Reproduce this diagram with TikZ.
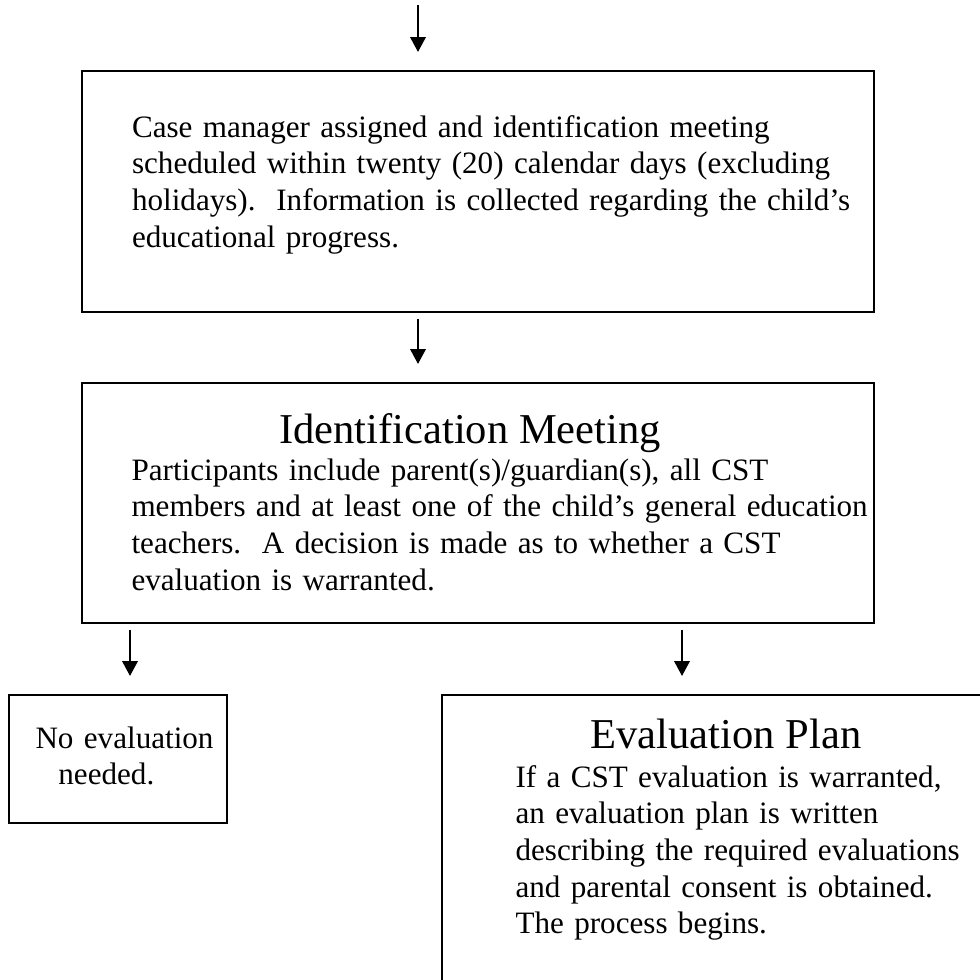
\documentclass[tikz,border=0pt]{standalone}
\usepackage{fontspec}
\setmainfont{Liberation Serif}
\usetikzlibrary{arrows.meta,fit}

\tikzset{
  box/.style={draw, line width=0.75pt, inner sep=0pt},
  flow/.style={-{Triangle[length=5.6pt,width=5.9pt]}, line width=0.5pt,
    shorten <=2.3pt, shorten >=6.8pt},
  body/.style={font=\fontsize{11.7}{13.8}\selectfont, inner sep=0pt,
    anchor=base west, text width=290pt, align=left},
  heading/.style={font=\fontsize{16}{18.4}\selectfont, inner sep=0pt, anchor=base},
}

\begin{document}
\begin{tikzpicture}[x=0.376pt,y=-0.376pt]
  \useasboundingbox (0,0) rectangle (980,979);
  \clip (0,0) rectangle (980,979);

  % where the arrows run
  \coordinate (midx) at (418,5);
  \coordinate (leftx) at (130,0);
  \coordinate (rightx) at (682,0);

  % boxes
  \node[box, fit={(82,71) (874,312)}] (casebox) {};
  \node[box, fit={(82,383) (874,623)}] (idbox) {};
  \node[box, fit={(9,695) (227,823)}] (noeval) {};
  \node[box, fit={(442,695) (995,995)}] (evalplan) {};

  % texts
  \node[body] (casetext) at (131.5,137) {Case manager assigned and identification meeting\\
    scheduled within twenty (20) calendar days (excluding\\
    holidays).\ \ Information is collected regarding the child’s\\
    educational progress.};
  \node[heading] (idtitle) at (470,443) {Identification Meeting};
  \node[body] (idtext) at (131,480) {Participants include parent(s)/guardian(s), all CST\\
    members and at least one of the child’s general education\\
    teachers.\ \ A decision is made as to whether a CST\\
    evaluation is warranted.};
  \node[body, text width=100pt] (noevaltext) at (35,748) {No evaluation\\
    \hspace*{8.6pt}needed.};
  \node[heading] (plantitle) at (726,748) {Evaluation Plan};
  \node[body, text width=200pt] (plantext) at (515,787) {If a CST evaluation is warranted,\\
    an evaluation plan is written\\
    describing the required evaluations\\
    and parental consent is obtained.\\
    The process begins.};

  % arrows
  \draw[flow, shorten <=0pt] (midx) -- (casebox.north -| midx);
  \draw[flow] (casebox.south -| midx) -- (idbox.north -| midx);
  \draw[flow] (idbox.south -| leftx) -- (noeval.north -| leftx);
  \draw[flow] (idbox.south -| rightx) -- (evalplan.north -| rightx);
\end{tikzpicture}
\end{document}
